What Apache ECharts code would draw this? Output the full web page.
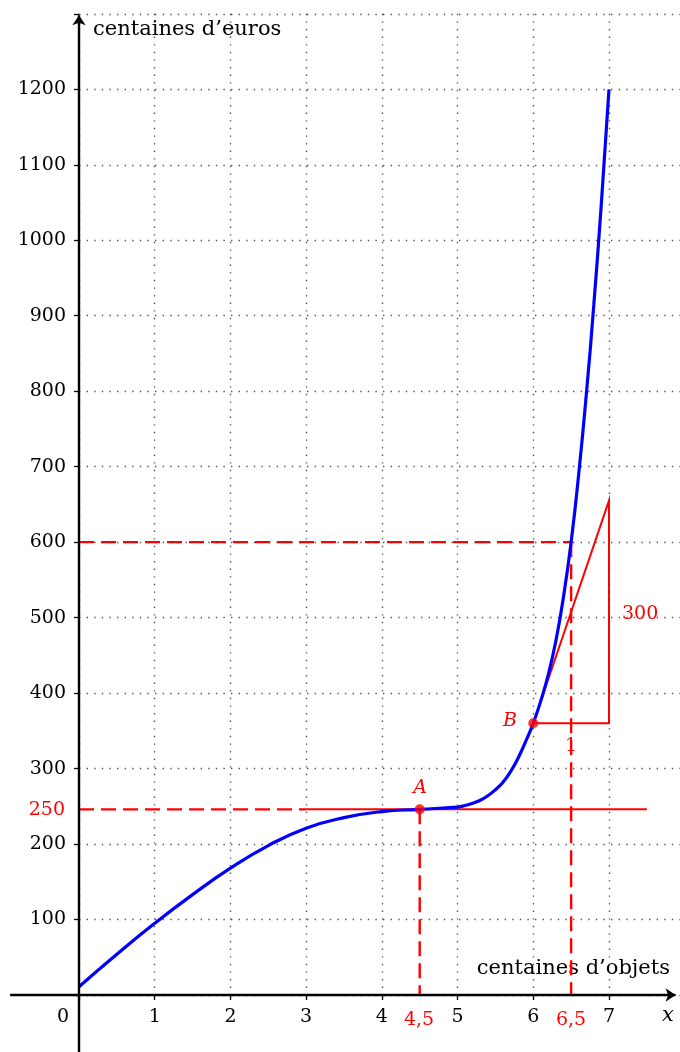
<!DOCTYPE html>
<html>
<head>
<meta charset="utf-8">
<script src="https://cdn.jsdelivr.net/npm/echarts@6/dist/echarts.min.js"></script>
<style>html,body{margin:0;padding:0;background:#fff}#c{width:680px;height:1052px}</style>
</head>
<body>
<div id="c"></div>
<script>
// ---- data ----
const xTicks = [1, 2, 3, 4, 5, 6, 7];
const yTicks = [100, 200, 300, 400, 500, 600, 700, 800, 900, 1000, 1100, 1200];
const curveX = [0, 0.5, 1, 1.5, 2, 2.5, 3, 3.5, 4, 4.5, 5, 5.1, 5.2, 5.3, 5.4, 5.5, 5.6, 5.7, 5.8, 5.9, 6, 6.1, 6.2, 6.3, 6.4, 6.5, 6.6, 6.7, 6.8, 6.9, 7];
const curveY = [11, 54, 95, 133, 168, 198, 221, 235, 243, 246, 249, 251, 254, 258, 264, 272, 282, 296, 314, 336, 360, 390, 425, 470, 528, 600, 690, 795, 915, 1050, 1200];
const pointA = [4.5, 246];
const pointB = [6, 360];
const tangentTop = [7, 655];
const tangentAStart = 3, tangentAEnd = 7.5;
const level600 = 600, x65 = 6.5;
const xAxisEnds = [-0.91, 7.88];
const yAxisEnds = [-76, 1298];

const FONT = '"DejaVu Serif", serif';
const RED = '#ff0000';
const chart = echarts.init(document.getElementById('c'), null, {renderer: 'canvas'});

const curve = curveX.map((x, i) => [x, curveY[i]]);
const dash = [15, 7];

const option = {
  animation: false,
  grid: {left: 79, top: 13.8, width: 605.7, height: 981.2, containLabel: false, outerBoundsMode: 'none'},
  xAxis: {
    type: 'value', min: 0, max: 8, interval: 1,
    axisLine: {show: false},
    axisTick: {show: true, length: 5, lineStyle: {color: '#000', width: 1.3}},
    axisLabel: {
      margin: 13, color: '#000', fontFamily: FONT, fontSize: 19,
      formatter: v => xTicks.includes(v) ? String(v) : ''
    },
    splitLine: {show: true, lineStyle: {color: '#555', width: 1.4, type: [1.4, 6.2]}}
  },
  yAxis: {
    type: 'value', min: 0, max: 1300, interval: 100,
    axisLine: {show: false},
    axisTick: {show: true, length: 5, lineStyle: {color: '#000', width: 1.3}},
    axisLabel: {
      margin: 13, color: '#000', fontFamily: FONT, fontSize: 19,
      formatter: v => yTicks.includes(v) ? String(v) : ''
    },
    splitLine: {show: true, lineStyle: {color: '#555', width: 1.4, type: [1.4, 6.2]}}
  },
  series: [
    {type: 'line', clip: false, symbol: 'none', silent: true,
     data: [[0, pointA[1]], [tangentAStart, pointA[1]]],
     lineStyle: {color: RED, width: 2.4, type: dash}},
    {type: 'line', clip: false, symbol: 'none', silent: true,
     data: [[pointA[0], pointA[1]], [pointA[0], 0]],
     lineStyle: {color: RED, width: 2.4, type: dash}},
    {type: 'line', clip: false, symbol: 'none', silent: true,
     data: [[0, level600], [x65, level600]],
     lineStyle: {color: RED, width: 2.4, type: dash}},
    {type: 'line', clip: false, symbol: 'none', silent: true,
     data: [[x65, level600], [x65, 0]],
     lineStyle: {color: RED, width: 2.4, type: dash}},
    {type: 'line', clip: false, symbol: 'none', silent: true,
     data: [[tangentAStart, pointA[1]], [tangentAEnd, pointA[1]]],
     lineStyle: {color: RED, width: 2}},
    {type: 'line', clip: false, symbol: 'none', silent: true,
     data: [pointB, tangentTop, [tangentTop[0], pointB[1]], pointB],
     lineStyle: {color: RED, width: 2, join: 'miter'}},
    {type: 'line', clip: false, symbol: 'none', smooth: 0.5, silent: true,
     data: curve, lineStyle: {color: '#0000ff', width: 3.2}, z: 5},
    {type: 'scatter', clip: false, symbolSize: 10, silent: true,
     data: [pointA, pointB], itemStyle: {color: RED}, z: 6},
    {type: 'lines', coordinateSystem: 'cartesian2d', clip: false, silent: true,
     symbol: ['none', 'arrow'], symbolSize: [7, 10],
     lineStyle: {color: '#000', width: 2.4, opacity: 1},
     data: [
       {coords: [[xAxisEnds[0], 0], [xAxisEnds[1], 0]]},
       {coords: [[0, yAxisEnds[0]], [0, yAxisEnds[1]]]}
     ], z: 7}
  ],
  graphic: [
    {type: 'text', x: 93, y: 30, style: {text: 'centaines d\u2019euros', font: '21px ' + FONT, fill: '#000', align: 'left', verticalAlign: 'middle'}},
    {type: 'text', x: 670, y: 969, style: {text: 'centaines d\u2019objets', font: '21px ' + FONT, fill: '#000', align: 'right', verticalAlign: 'middle'}},
    {type: 'text', x: 668, y: 1016, style: {text: 'x', font: 'italic 21px ' + FONT, fill: '#000', align: 'center', verticalAlign: 'middle'}},
    {type: 'text', x: 63, y: 1017, style: {text: '0', font: '19px ' + FONT, fill: '#000', align: 'center', verticalAlign: 'middle'}},
    {type: 'text', x: 65, y: 810, style: {text: '250', font: '19px ' + FONT, fill: RED, align: 'right', verticalAlign: 'middle'}},
    {type: 'text', x: 419, y: 1020, style: {text: '4,5', font: '19px ' + FONT, fill: RED, align: 'center', verticalAlign: 'middle'}},
    {type: 'text', x: 571, y: 1020, style: {text: '6,5', font: '19px ' + FONT, fill: RED, align: 'center', verticalAlign: 'middle'}},
    {type: 'text', x: 420, y: 788, style: {text: 'A', font: 'italic 19px ' + FONT, fill: RED, align: 'center', verticalAlign: 'middle'}},
    {type: 'text', x: 510, y: 721, style: {text: 'B', font: 'italic 19px ' + FONT, fill: RED, align: 'center', verticalAlign: 'middle'}},
    {type: 'text', x: 571, y: 746, style: {text: '1', font: '19px ' + FONT, fill: RED, align: 'center', verticalAlign: 'middle'}},
    {type: 'text', x: 622, y: 614, style: {text: '300', font: '19px ' + FONT, fill: RED, align: 'left', verticalAlign: 'middle'}}
  ]
};
chart.setOption(option);
</script>
</body>
</html>
